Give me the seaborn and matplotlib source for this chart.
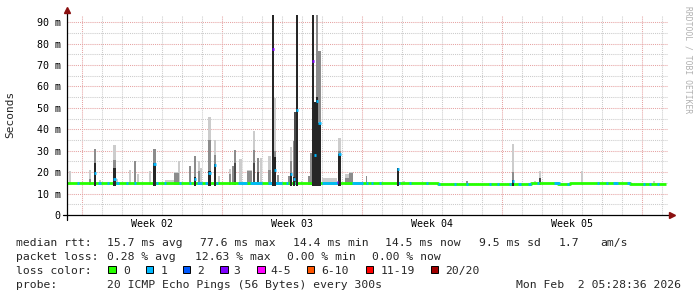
import numpy as np
import pandas as pd
import matplotlib
matplotlib.use("Agg")
import matplotlib.pyplot as plt
from matplotlib.patches import Rectangle
import seaborn as sns

# ---------------- data (x = days since Sun 2026-01-04 00:00, y = milliseconds) ----------------
# median rtt baseline (step segments)
base_start = [-0.735, 1.815, 12.915, 17.815, 22.465, 23.815, 24.415, 27.415]
base_end = [1.815, 12.915, 17.815, 22.465, 23.815, 24.415, 27.415, 29.215]
base_median = [14.7, 15.1, 14.9, 14.5, 14.9, 14.5, 14.9, 14.5]

# periods on the baseline where 1 of 20 pings was lost
loss1_start = [-0.24, 0.82, 1.27, 1.72, 2.22, 2.62, 3.72, 4.12, 4.87, 5.37, 5.77, 6.17,
               6.72, 7.82, 8.42, 9.32, 10.22, 10.57, 12.02, 13.52, 14.22, 14.47, 14.87,
               15.82, 16.37, 17.22, 17.82, 18.62, 19.22, 20.37, 20.77, 21.37, 21.82,
               22.32, 22.77, 23.62, 24.27, 25.77, 26.22, 26.57, 27.27, 28.07, 28.37, 28.77]
loss1_end = [-0.14, 0.97, 1.37, 1.87, 2.32, 2.72, 3.82, 4.22, 4.97, 5.47, 6.02, 6.32,
             6.82, 8.27, 9.02, 10.02, 10.32, 10.67, 12.82, 14.07, 14.32, 14.57, 14.97,
             15.92, 16.47, 17.32, 17.92, 18.72, 19.32, 20.47, 20.87, 21.47, 21.97,
             22.47, 22.87, 23.92, 24.37, 25.87, 26.32, 26.82, 27.42, 28.17, 28.47, 28.87]

# smoke spikes: centre, width, median (nan = on baseline), dark / mid / light smoke tops, loss class
spike_day = [-0.585, 0.415, 0.665, 0.915, 1.64, 1.765, 2.39, 2.665, 2.815, 3.415, 3.64, 4.415,
             4.715, 4.84, 5.415, 5.64, 5.84, 5.965, 6.365, 6.665, 6.84, 7.415, 7.565, 7.665,
             7.94, 8.365, 8.615, 8.79, 8.94, 9.39, 9.565, 9.665, 9.815, 10.365, 10.465, 10.59,
             10.665, 10.765, 11.0, 11.365, 11.465, 11.58, 11.665, 11.765, 11.89, 12.365, 12.79,
             12.89, 13.265, 13.465, 14.24, 15.805, 16.115, 19.265, 21.565, 22.665, 22.915,
             25.015, 28.615]
spike_width = [0.1, 0.1, 0.1, 0.1, 0.15, 0.075, 0.1, 0.1, 0.075, 0.1, 0.125, 0.5,
               0.25, 0.1, 0.1, 0.1, 0.1, 0.075, 0.15, 0.125, 0.1, 0.1, 0.075, 0.125,
               0.125, 0.25, 0.1, 0.1, 0.1, 0.15, 0.125, 0.1, 0.1, 0.1, 0.1, 0.1,
               0.075, 0.125, 0.075, 0.1, 0.075, 0.1, 0.075, 0.1, 0.125, 0.75, 0.05,
               0.125, 0.2, 0.2, 0.075, 0.115, 0.075, 0.075, 0.1, 0.075, 0.1,
               0.075, 0.075]
nan = np.nan
spike_median = [nan, nan, 19.7, nan, 16.8, nan, nan, nan, nan, nan, 23.6, nan,
                nan, nan, nan, 17.0, nan, nan, 19.7, 23.5, nan, nan, nan, nan,
                nan, nan, nan, nan, nan, nan, 77.4, 21.0, nan, nan, 19.0, 17.0,
                nan, 49.0, nan, nan, nan, 72.0, 28.0, 53.0, 43.0, nan, 15.5,
                28.4, nan, nan, nan, 21.5, nan, nan, 16.0, nan, nan,
                nan, nan]
spike_dark = [nan, nan, 24.1, nan, 21.8, nan, nan, nan, nan, nan, 24.1, nan,
              nan, nan, nan, 17.6, nan, nan, 20.5, 24.0, nan, nan, nan, 24.1,
              nan, nan, 24.1, 20.0, nan, nan, 93.3, 27.0, nan, nan, 19.4, 17.5,
              48.2, 93.3, nan, nan, nan, 93.3, 52.8, 55.0, 43.0, nan, nan,
              28.4, nan, nan, nan, 21.8, nan, nan, 16.3, nan, 17.1,
              nan, nan]
spike_mid = [nan, 16.8, 30.6, nan, 25.6, nan, nan, 25.2, nan, nan, 30.6, nan,
             19.5, nan, 22.8, 27.5, 20.5, nan, 35.0, 28.0, nan, 19.0, 23.0, 30.3,
             nan, 20.5, 30.3, 26.7, nan, 21.0, 93.3, 30.0, 18.7, 18.0, 25.0, 34.5,
             48.2, 93.3, nan, 18.0, 28.8, 93.3, 52.8, 93.3, 76.5, nan, nan,
             30.0, 17.1, 19.7, 18.2, 21.8, nan, 15.9, 20.2, nan, 17.1,
             nan, nan]
spike_light = [20.5, 21.0, 30.6, 16.5, 32.6, 17.0, 21.0, 25.2, 19.0, 20.5, 30.6, 16.3,
               20.0, 25.2, 22.8, 27.5, 25.2, 22.0, 45.9, 35.0, 18.0, 21.5, 23.0, 30.3,
               26.0, 21.0, 39.2, 26.7, 26.5, 27.5, 93.3, 54.4, 18.7, 18.0, 31.9, 34.5,
               48.2, 93.3, 16.0, 18.0, 28.8, 93.3, 52.8, 93.3, 76.5, 17.1, nan,
               35.9, 19.0, 20.2, 18.2, 21.8, 16.0, 15.9, 33.1, 16.0, 20.5,
               20.5, 15.8]
spike_loss = [0, 0, 1, 0, 1, 0, 0, 0, 0, 0, 1, 0,
              0, 0, 0, 1, 0, 0, 1, 1, 0, 0, 0, 0,
              0, 0, 0, 0, 0, 0, 3, 1, 0, 0, 1, 1,
              0, 1, 0, 0, 0, 3, 1, 1, 1, 0, 3,
              1, 0, 0, 0, 1, 0, 0, 1, 0, 0,
              0, 0]

loss_labels = ['0', '1', '2', '3', '4-5', '6-10', '11-19', '20/20']
loss_colors = ['#26ff00', '#00b8ff', '#0059ff', '#7e00ff', '#ff00ff', '#ff5500', '#ff0000', '#a00000']

y_ticks = [0, 10, 20, 30, 40, 50, 60, 70, 80, 90]
y_tick_labels = ['0', '10 m', '20 m', '30 m', '40 m', '50 m', '60 m', '70 m', '80 m', '90 m']
week_starts = [0, 7, 14, 21, 28]
week_centers = [3.5, 10.5, 17.5, 24.5]
week_labels = ['Week 02', 'Week 03', 'Week 04', 'Week 05']
day_lines = list(range(0, 30))

rtt_texts = ['median rtt:', '15.7 ms avg', '77.6 ms max', '14.4 ms min', '14.5 ms now', '9.5 ms sd', '1.7', 'am/s']
loss_texts = ['packet loss:', '0.28 % avg', '12.63 % max', '0.00 % min', '0.00 % now']
probe_text = '20 ICMP Echo Pings (56 Bytes) every 300s'
stamp_text = 'Mon Feb  2 05:28:36 2026'

# ---------------- styling / layout ----------------
sns.set_style('white')
plt.rcParams['font.family'] = ['DejaVu Sans Mono', 'DejaVu Sans']

W, H = 697, 297
fig = plt.figure(figsize=(W / 100, H / 100), dpi=100)
fig.patch.set_facecolor('white')
ax = fig.add_axes([67 / W, 82 / H, 601 / W, 200 / H])
ax.set_facecolor('white')
ax.set_xlim(-0.735, 29.315)
ax.set_ylim(0, 93.3)
for s in ax.spines.values():
    s.set_visible(False)

minor_grid = '#cbcbcb'
major_grid = '#e6a3a3'
dot = (0, (1, 1))
for d in day_lines:
    if d not in week_starts:
        ax.axvline(d, color=minor_grid, lw=0.75, ls=dot, zorder=1)
for d in week_starts:
    ax.axvline(d, color=major_grid, lw=0.75, ls=dot, zorder=1)
for v in range(5, 95, 5):
    ax.axhline(v, color=(major_grid if v % 10 == 0 else minor_grid), lw=0.75, ls=dot, zorder=1)

# smoke
light_c, mid_c, dark_c = '#cccccc', '#8c8c8c', '#262626'
sd = np.array(spike_day)
sw = np.array(spike_width)
sm = np.array(spike_median)
sk = np.array(spike_dark)
smid = np.array(spike_mid)
sl = np.array(spike_light)
sloss = np.array(spike_loss)
smoke_bottom = 14.0
ok = ~np.isnan(sl)
ax.bar(sd[ok], sl[ok] - smoke_bottom, bottom=smoke_bottom, width=sw[ok], color=light_c, lw=0, zorder=2)
ok = ~np.isnan(smid)
ax.bar(sd[ok], smid[ok] - smoke_bottom, bottom=smoke_bottom, width=sw[ok], color=mid_c, lw=0, zorder=2.1)
ok = ~np.isnan(sk) & np.isnan(sm)
ax.bar(sd[ok], sk[ok] - smoke_bottom, bottom=smoke_bottom, width=sw[ok], color='#4a4a4a', lw=0, zorder=2.2)

# median baseline (seaborn line, step style)
base_df = pd.DataFrame({'day': base_start + [base_end[-1]],
                        'ms': base_median + [base_median[-1]]})
sns.lineplot(data=base_df, x='day', y='ms', drawstyle='steps-post', estimator=None,
             color=loss_colors[0], linewidth=2.0, solid_capstyle='butt', ax=ax, zorder=3)
idx = np.searchsorted(np.array(base_start), np.array(loss1_start), side='right') - 1
ax.hlines(np.array(base_median)[idx], loss1_start, loss1_end, colors=loss_colors[1],
          lw=2.0, zorder=3.1)

# dark smoke around elevated medians covers the baseline
ok = ~np.isnan(sk) & ~np.isnan(sm)
ax.bar(sd[ok], sk[ok] - 13.6, bottom=13.6, width=sw[ok], color=dark_c, lw=0, zorder=4)
ok = ~np.isnan(sm)
ax.hlines(sm[ok], sd[ok] - sw[ok] / 2, sd[ok] + sw[ok] / 2,
          colors=[loss_colors[k] for k in sloss[ok]], lw=2.0, zorder=5)

ax.set_xlabel('')
ax.set_ylabel('')

# ticks
ax.set_yticks(y_ticks)
ax.set_yticklabels(y_tick_labels, fontsize=7.2)
ax.tick_params(axis='y', length=0, pad=4.5, labelcolor='black')
ax.set_xticks(week_starts)
ax.set_xticklabels([''] * len(week_starts))
ax.tick_params(axis='x', which='major', length=2.2, width=0.7, direction='out', color='#444444')
ax.set_xticks(week_centers, minor=True)
ax.set_xticklabels(week_labels, minor=True, fontsize=7.2)
ax.tick_params(axis='x', which='minor', length=0, pad=3.0, labelcolor='black')

# axes with arrows
ax.plot([-0.006, 1.002], [0, 0], transform=ax.transAxes, color='black', lw=0.9, clip_on=False, zorder=6)
ax.plot([0, 0], [-0.025, 1.015], transform=ax.transAxes, color='black', lw=0.9, clip_on=False, zorder=6)
ax.plot([1.0065], [0], transform=ax.transAxes, marker='>', ms=4, color='#8b1010', clip_on=False, zorder=7)
ax.plot([0], [1.027], transform=ax.transAxes, marker='^', ms=4, color='#8b1010', clip_on=False, zorder=7)

# labels
def fx(px):
    return px / W

def fy(py):
    return 1 - py / H

fig.text(fx(10), fy(114), 'Seconds', rotation=90, ha='center', va='center', fontsize=8)
fig.text(fx(688), fy(60), 'RRDTOOL / TOBI OETIKER', rotation=270, ha='center', va='center',
         fontsize=5.8, color='#b0b0b0')

fs = 8.2
rtt_x = [16, 107.3, 200, 293.3, 385, 479.3, 558.3, 600]
for x, t in zip(rtt_x, rtt_texts):
    fig.text(fx(x), fy(245.8), t, fontsize=fs, va='baseline')
loss_x = [16, 107.3, 195, 286.7, 372.3]
for x, t in zip(loss_x, loss_texts):
    fig.text(fx(x), fy(259.7), t, fontsize=fs, va='baseline')
fig.text(fx(16), fy(273.6), 'loss color:', fontsize=fs, va='baseline')
box_x = [108.3, 145.7, 182.7, 220, 257.3, 306.7, 365.7, 430.7]
lab_x = [123.3, 160.7, 197.3, 233.3, 270.7, 321, 380.7, 445]
for bx, lx, c, t in zip(box_x, lab_x, loss_colors, loss_labels):
    fig.patches.append(Rectangle((fx(bx), fy(273.4)), 7.7 / W, 7.7 / H, transform=fig.transFigure,
                                 facecolor=c, edgecolor='black', lw=0.7))
    fig.text(fx(lx), fy(273.6), t, fontsize=fs, va='baseline')
fig.text(fx(16), fy(287.5), 'probe:', fontsize=fs, va='baseline')
fig.text(fx(107.3), fy(287.5), probe_text, fontsize=fs, va='baseline')
fig.text(fx(680.5), fy(287.5), stamp_text, fontsize=fs, va='baseline', ha='right')

fig.savefig('out.png', dpi=100, facecolor='white')
